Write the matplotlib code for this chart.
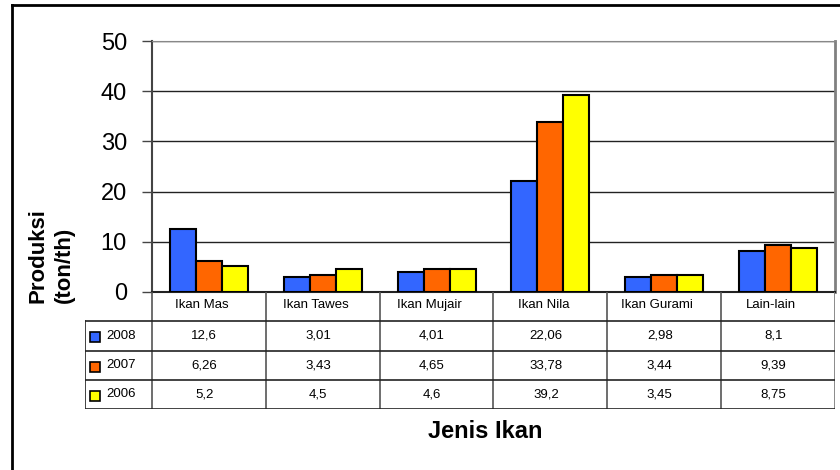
import numpy as np
import matplotlib
matplotlib.use("Agg")
import matplotlib.pyplot as plt
from matplotlib.lines import Line2D

plt.rcParams['font.family'] = ['Liberation Sans', 'DejaVu Sans']

# --- data ---
categories = ["Ikan Mas", "Ikan Tawes", "Ikan Mujair", "Ikan Nila", "Ikan Gurami", "Lain-lain"]
years = ["2008", "2007", "2006"]
prod_2008 = [12.6, 3.01, 4.01, 22.06, 2.98, 8.1]
prod_2007 = [6.26, 3.43, 4.65, 33.78, 3.44, 9.39]
prod_2006 = [5.2, 4.5, 4.6, 39.2, 3.45, 8.75]
series = [prod_2008, prod_2007, prod_2006]
colors = ["#3366FF", "#FF6600", "#FFFF00"]


def fmt(v):
    # comma as decimal separator
    return f"{v:g}".replace(".", ",")


W, H = 840, 470
fig = plt.figure(figsize=(W / 100, H / 100), dpi=100)

# outer frame
fig.add_artist(Line2D([12 / W, 12 / W], [0, 1 - 5 / H], color="black", lw=2))
fig.add_artist(Line2D([12 / W, 1], [1 - 5 / H, 1 - 5 / H], color="black", lw=2))

# --- bar chart ---
ax = fig.add_axes([152 / W, 178 / H, 683 / W, 251 / H])
x = np.arange(len(categories))
bw = 0.228
for i, (vals, c) in enumerate(zip(series, colors)):
    ax.bar(x + (i - 1) * bw, vals, width=bw, color=c, edgecolor="black",
           linewidth=1.5, zorder=3)

ax.set_xlim(-0.5, len(categories) - 0.5)
ax.set_ylim(0, 50)
ax.set_yticks(range(0, 51, 10))
ax.set_xticks([])
ax.yaxis.grid(True, color="#222222", linewidth=1.0)
ax.set_axisbelow(True)
ax.tick_params(axis="y", length=7, width=1, color="#444444", labelsize=17, pad=11)
ax.spines["left"].set_color("#444444")
ax.spines["left"].set_linewidth(1.5)
ax.spines["bottom"].set_color("#222222")
ax.spines["bottom"].set_linewidth(1.5)
ax.spines["top"].set_color("#888888")
ax.spines["right"].set_color("#808080")
ax.spines["right"].set_linewidth(2)

# --- data table under the chart ---
unit = 683 / len(categories)
xmin = -0.5 - 67 / unit
tax = fig.add_axes([85 / W, 61 / H, 750 / W, 117 / H])
tax.set_xlim(xmin, len(categories) - 0.5)
tax.set_ylim(4, 0)
tax.axis("off")

for k in range(len(categories)):
    tax.plot([k - 0.5, k - 0.5], [0, 4], color="#555555", lw=1.2)
tax.plot([len(categories) - 0.5] * 2, [0, 4], color="#808080", lw=2)
tax.plot([xmin, xmin], [1, 4], color="#222222", lw=1.2)
for r in range(1, 5):
    tax.plot([xmin, len(categories) - 0.5], [r, r], color="#222222", lw=1.2)

for k, name in enumerate(categories):
    tax.text(k - 0.06, 0.45, name, ha="center", va="center", fontsize=9.5)

for r, (yr, vals, c) in enumerate(zip(years, series, colors)):
    yy = r + 1.5
    tax.plot([xmin + 0.088], [yy + 0.05], marker="s", markersize=7.5,
             markerfacecolor=c, markeredgecolor="black", markeredgewidth=1.2)
    tax.text(xmin + 0.185, yy, yr, ha="left", va="center", fontsize=9.5)
    for k, v in enumerate(vals):
        tax.text(k - 0.04, yy, fmt(v), ha="center", va="center", fontsize=9.5)

# axis titles
fig.text(51 / W, 1 - 256 / H, "Produksi\n(ton/th)", rotation=90, ha="center",
         va="center", multialignment="left", fontweight="bold", fontsize=16,
         linespacing=1.3)
fig.text(485 / W, 1 - 432 / H, "Jenis Ikan", ha="center", va="center",
         fontsize=17, fontweight="bold")

fig.savefig("out.png", dpi=100)
